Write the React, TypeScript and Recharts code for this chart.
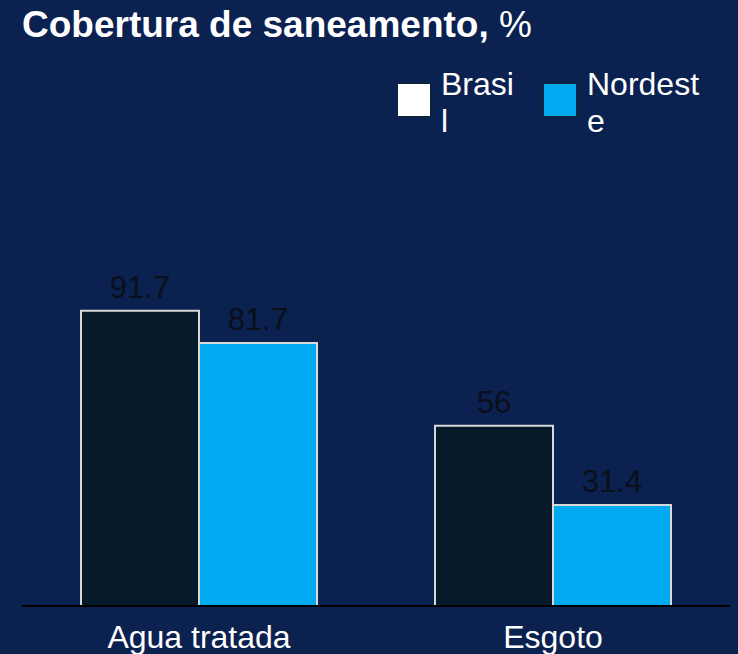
import React from 'react';
import { BarChart, Bar, XAxis, YAxis, LabelList, Legend } from 'recharts';

// Dados do gráfico
const categorias = ['Agua tratada', 'Esgoto'];
const brasil = [91.7, 56];
const nordeste = [81.7, 31.4];

const series = [
  { key: 'brasil', nome: 'Brasil', linhas: ['Brasi', 'l'], fill: '#061a29', legenda: '#ffffff' },
  { key: 'nordeste', nome: 'Nordeste', linhas: ['Nordest', 'e'], fill: '#00a9f0', legenda: '#00a9f0' },
];

const data = categorias.map((name, i) => ({ name, brasil: brasil[i], nordeste: nordeste[i] }));

const FONT = '"Liberation Sans", Arial, sans-serif';
const BG = '#0b2150';

// Legenda com o texto quebrado como no original
const LegendaCustom = () => (
  <div style={{ position: 'relative', fontFamily: FONT, height: 80 }}>
    {series.map((s, i) => (
      <div key={s.key} style={{ position: 'absolute', left: i * 146, top: 0, display: 'flex', alignItems: 'flex-start' }}>
        <div
          style={{
            width: 32,
            height: 32,
            marginTop: 17,
            background: s.legenda,
            border: '1.5px solid #0a2535',
          }}
        />
        <div style={{ marginLeft: 10, color: '#ffffff', fontSize: 32, lineHeight: '37px', whiteSpace: 'nowrap' }}>
          {s.linhas.map((l) => (
            <div key={l}>{l}</div>
          ))}
        </div>
      </div>
    ))}
  </div>
);

export default function App() {
  return (
    <div style={{ position: 'absolute', left: 0, top: 0, width: 738, height: 654, background: BG, overflow: 'hidden' }}>
      <div
        style={{
          position: 'absolute',
          left: 22,
          top: 7,
          fontFamily: FONT,
          fontSize: 37,
          lineHeight: '36px',
          color: '#ffffff',
          whiteSpace: 'nowrap',
          zIndex: 2,
        }}
      >
        <span style={{ fontWeight: 'bold' }}>Cobertura de saneamento,</span> %
      </div>
      <BarChart
        width={738}
        height={654}
        data={data}
        margin={{ top: 284, right: 8, bottom: 0, left: 22 }}
        barCategoryGap={59}
        barGap={0}
      >
        <XAxis
          dataKey="name"
          axisLine={{ stroke: '#000000', strokeWidth: 2 }}
          tickLine={false}
          height={48}
          tickMargin={13}
          tick={{ fill: '#ffffff', fontSize: 32, fontFamily: FONT }}
        />
        <YAxis hide domain={[0, 100]} />
        <Legend
          layout="horizontal"
          verticalAlign="middle"
          align="center"
          content={() => <LegendaCustom />}
          wrapperStyle={{ position: 'absolute', left: 397, top: 66, width: 340 }}
        />
        {series.map((s) => (
          <Bar
            key={s.key}
            dataKey={s.key}
            name={s.nome}
            fill={s.fill}
            stroke="#d9d9d9"
            strokeWidth={2}
            isAnimationActive={false}
          >
            <LabelList
              dataKey={s.key}
              position="top"
              offset={13}
              fill="#0a0f1a"
              fontSize={31}
              fontFamily={FONT}
            />
          </Bar>
        ))}
      </BarChart>
    </div>
  );
}
